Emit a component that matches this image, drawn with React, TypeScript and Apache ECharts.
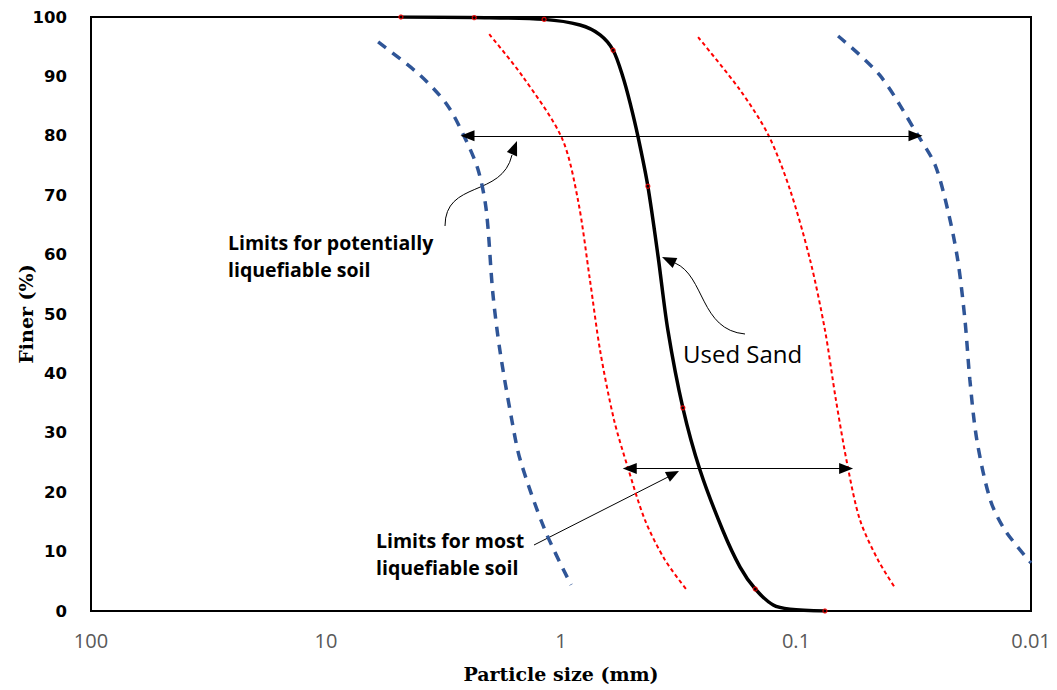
import React, { useEffect, useRef } from "react";
import * as echarts from "echarts";

// Particle size (mm) and percent finer
const usedSandSize = [4.8, 2.34, 1.18, 0.83, 0.682, 0.6, 0.545, 0.508, 0.47, 0.427, 0.386, 0.351, 0.303, 0.256, 0.205, 0.173, 0.149, 0.125, 0.106, 0.0753];
const usedSandFiner = [100, 99.9, 99.6, 98.65, 97.0, 94.4, 89.9, 85.5, 79.8, 71.5, 59.6, 47.3, 34.2, 23.7, 13.6, 7.4, 3.7, 1.0, 0.3, 0];
const sieveSize = [4.8, 2.34, 1.18, 0.6, 0.427, 0.303, 0.149, 0.0753];
const sieveFiner = [100, 99.9, 99.6, 94.4, 71.5, 34.2, 3.7, 0];

const potLeftSize = [6.0, 3.98, 3.05, 2.56, 2.25, 2.08, 1.95, 1.82, 1.62, 1.49, 1.17, 0.906];
const potLeftFiner = [95.8, 90.2, 85.2, 79.6, 74.2, 67.5, 53.5, 43.9, 32.2, 25.4, 13.6, 4.4];
const potRightSize = [0.0662, 0.044, 0.0303, 0.0256, 0.0226, 0.0205, 0.0191, 0.0182, 0.017, 0.0149, 0.0129, 0.01];
const potRightFiner = [96.8, 90.2, 80.1, 75.1, 67.5, 59.1, 49.0, 38.9, 28.8, 18.7, 13.6, 8.1];

const mostLeftSize = [2.02, 1.45, 0.991, 0.847, 0.753, 0.682, 0.595, 0.519, 0.439, 0.361, 0.291];
const mostLeftFiner = [97.1, 89.9, 79.6, 69.2, 55.7, 43.9, 32.2, 24.1, 15.3, 8.6, 3.5];
const mostRightSize = [0.261, 0.173, 0.131, 0.106, 0.0871, 0.0753, 0.0676, 0.0601, 0.0534, 0.0448, 0.0379];
const mostRightFiner = [96.6, 87.7, 80.1, 70.9, 59.1, 47.3, 35.5, 24.1, 15.3, 8.6, 3.9];

// Range arrows (size at each end, percent level)
const potRange = [2.5, 0.031];
const potLevel = 80;
const mostRange = [0.51, 0.0612];
const mostLevel = 24;

const yTicks = [0, 10, 20, 30, 40, 50, 60, 70, 80, 90, 100];

const pairs = (xs: number[], ys: number[]) => xs.map((x, i) => [x, ys[i]]);

const fmt = (v: number) => (v >= 1 ? String(Math.round(v)) : String(+v.toPrecision(1)));

export default function App() {
  const ref = useRef<HTMLDivElement>(null);
  useEffect(() => {
    if (!ref.current) return;
    const chart = echarts.init(ref.current, null, { renderer: "svg" });
    const blue = "#2F5597";
    const red = "#FF0000";
    const annFont = "'Open Sans', 'Noto Sans', sans-serif";
    const arrowLine = { color: "#000", width: 1, type: "solid" as const };
    chart.setOption({
      animation: false,
      backgroundColor: "#fff",
      grid: {
        left: 91,
        right: 26,
        top: 17,
        bottom: 79,
        show: true,
        borderColor: "#000",
        borderWidth: 2,
        containLabel: false,
        outerBoundsMode: "none",
      },
      xAxis: {
        type: "log",
        logBase: 10,
        min: 0.01,
        max: 100,
        inverse: true,
        axisLine: { show: true, lineStyle: { color: "#000", width: 2 } },
        axisTick: { show: false },
        splitLine: { show: false },
        axisLabel: {
          formatter: (v: number) => fmt(v),
          color: "#595959",
          fontSize: 20,
          margin: 19,
          fontFamily: annFont,
        },
        name: "Particle size (mm)",
        nameLocation: "middle",
        nameGap: 53,
        nameMoveOverlap: false,
        nameTextStyle: { fontFamily: "'DejaVu Serif', serif", fontWeight: "bold", fontSize: 19, color: "#000" },
      },
      yAxis: {
        type: "value",
        min: yTicks[0],
        max: yTicks[yTicks.length - 1],
        interval: 10,
        axisLine: { show: true, lineStyle: { color: "#000", width: 2 } },
        axisTick: { show: false },
        splitLine: { show: false },
        axisLabel: {
          color: "#000",
          fontSize: 16.5,
          fontWeight: "bold",
          margin: 24,
          fontFamily: "'DejaVu Sans', sans-serif",
        },
        name: "Finer (%)",
        nameLocation: "middle",
        nameGap: 56,
        nameMoveOverlap: false,
        nameTextStyle: { fontFamily: "'DejaVu Serif', serif", fontWeight: "bold", fontSize: 19, color: "#000" },
      },
      series: [
        {
          name: "Potentially liquefiable (coarse)",
          type: "line",
          data: pairs(potLeftSize, potLeftFiner),
          smooth: 0.3,
          showSymbol: false,
          lineStyle: { color: blue, width: 3.5, type: [10, 8] },
          markLine: {
            silent: true,
            symbol: ["triangle", "triangle"],
            symbolSize: [11, 14],
            label: { show: false },
            lineStyle: arrowLine,
            data: [[{ coord: [potRange[0], potLevel] }, { coord: [potRange[1], potLevel] }]],
          },
        },
        {
          name: "Potentially liquefiable (fine)",
          type: "line",
          data: pairs(potRightSize, potRightFiner),
          smooth: 0.3,
          showSymbol: false,
          lineStyle: { color: blue, width: 3.5, type: [10, 8] },
        },
        {
          name: "Most liquefiable (coarse)",
          type: "line",
          data: pairs(mostLeftSize, mostLeftFiner),
          smooth: 0.3,
          showSymbol: false,
          lineStyle: { color: red, width: 2, type: [4, 3] },
          markLine: {
            silent: true,
            symbol: ["triangle", "triangle"],
            symbolSize: [11, 14],
            label: { show: false },
            lineStyle: arrowLine,
            data: [[{ coord: [mostRange[0], mostLevel] }, { coord: [mostRange[1], mostLevel] }]],
          },
        },
        {
          name: "Most liquefiable (fine)",
          type: "line",
          data: pairs(mostRightSize, mostRightFiner),
          smooth: 0.3,
          showSymbol: false,
          lineStyle: { color: red, width: 2, type: [4, 3] },
        },
        {
          name: "Used Sand",
          type: "line",
          data: pairs(usedSandSize, usedSandFiner),
          smooth: 0.3,
          showSymbol: false,
          lineStyle: { color: "#000", width: 3.5 },
        },
        {
          name: "Sieve points",
          type: "scatter",
          data: pairs(sieveSize, sieveFiner),
          symbol: "circle",
          symbolSize: 4,
          z: 5,
          itemStyle: { color: "#000", borderColor: red, borderWidth: 1.3 },
        },
      ],
      graphic: [
        {
          type: "bezierCurve",
          shape: { x1: 445, y1: 226, cpx1: 445, cpy1: 180, cpx2: 502, cpy2: 198, x2: 512, y2: 155 },
          style: { stroke: "#000", lineWidth: 1, fill: null },
        },
        {
          type: "polygon",
          shape: { points: [[517, 141], [517.1, 156.5], [506.9, 152]] },
          style: { fill: "#000" },
        },
        {
          type: "bezierCurve",
          shape: { x1: 745, y1: 334, cpx1: 700, cpy1: 330, cpx2: 705, cpy2: 276, x2: 675, y2: 263 },
          style: { stroke: "#000", lineWidth: 1, fill: null },
        },
        {
          type: "polygon",
          shape: { points: [[662, 257], [677.3, 258], [672.7, 268]] },
          style: { fill: "#000" },
        },
        {
          type: "line",
          shape: { x1: 534, y1: 545, x2: 668, y2: 477 },
          style: { stroke: "#000", lineWidth: 1 },
        },
        {
          type: "polygon",
          shape: { points: [[679, 471], [669.9, 481.8], [664.9, 472]] },
          style: { fill: "#000" },
        },
        {
          type: "text",
          x: 228,
          y: 256,
          style: {
            text: "Limits for potentially\nliquefiable soil",
            font: `bold 19.5px ${annFont}`,
            fill: "#000",
            lineHeight: 27,
            verticalAlign: "middle",
          },
        },
        {
          type: "text",
          x: 376,
          y: 554,
          style: {
            text: "Limits for most\nliquefiable soil",
            font: `bold 19.5px ${annFont}`,
            fill: "#000",
            lineHeight: 27,
            verticalAlign: "middle",
          },
        },
        {
          type: "text",
          x: 683,
          y: 353,
          style: {
            text: "Used Sand",
            font: `24px ${annFont}`,
            fill: "#000",
            verticalAlign: "middle",
          },
        },
      ],
    });
    return () => chart.dispose();
  }, []);
  return <div ref={ref} style={{ position: "fixed", left: 0, top: 0, width: 1057, height: 690 }} />;
}
